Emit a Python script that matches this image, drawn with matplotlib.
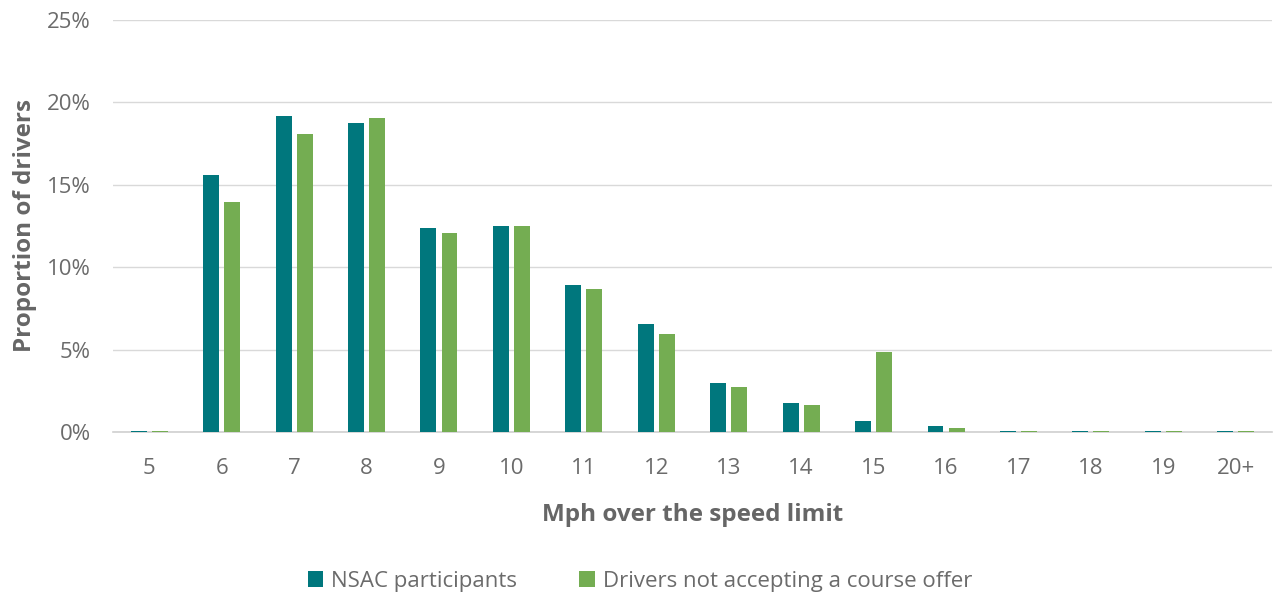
import matplotlib
matplotlib.use("Agg")
import matplotlib.pyplot as plt
import numpy as np
from matplotlib.ticker import PercentFormatter, MultipleLocator

categories = ["5", "6", "7", "8", "9", "10", "11", "12", "13", "14", "15", "16", "17", "18", "19", "20+"]
nsac = [0.05, 15.6, 19.15, 18.75, 12.4, 12.5, 8.95, 6.55, 2.95, 1.77, 0.67, 0.38, 0.05, 0.05, 0.05, 0.05]
not_accepting = [0.05, 13.95, 18.1, 19.05, 12.05, 12.5, 8.7, 5.95, 2.73, 1.63, 4.88, 0.27, 0.05, 0.05, 0.05, 0.05]

teal = "#00777D"
green = "#74AD52"
text_c = "#6b6b6b"
label_c = "#666666"

plt.rcParams['font.family'] = ['Open Sans', 'DejaVu Sans']

fig = plt.figure(figsize=(12.74, 5.96), dpi=100)
ax = fig.add_axes([113/1274, 1-432/596, (1272-113)/1274, (432-20)/596])

x = np.arange(len(categories))
w = 0.22
off = 0.145
ax.bar(x - off, nsac, width=w, color=teal, label="NSAC participants", zorder=3)
ax.bar(x + off, not_accepting, width=w, color=green, label="Drivers not accepting a course offer", zorder=3)

ax.set_xlim(-0.5, len(categories) - 0.5)
ax.set_ylim(0, 25)
ax.yaxis.set_major_locator(MultipleLocator(5))
ax.yaxis.set_major_formatter(PercentFormatter(decimals=0))
ax.grid(axis='y', color="#D9D9D9", linewidth=1, zorder=0)
ax.set_axisbelow(True)
for s in ["top", "right", "left"]:
    ax.spines[s].set_visible(False)
ax.spines["bottom"].set_color("#D0D0D0")
ax.spines["bottom"].set_linewidth(1.2)

ax.set_xticks(x)
ax.set_xticklabels(categories)
ax.tick_params(axis='x', length=0, pad=19, labelsize=16, labelcolor=text_c)
ax.tick_params(axis='y', length=0, pad=16, labelsize=16, labelcolor=text_c)

ax.set_xlabel("Mph over the speed limit", fontsize=17.5, fontweight='bold', color=label_c, labelpad=17)
ax.set_ylabel("Proportion of drivers", fontsize=17.5, fontweight='bold', color=label_c)
ax.yaxis.set_label_coords(-0.066, 0.5)

fig.legend(loc='center', bbox_to_anchor=(640/1274, 1-581/596), ncol=2, frameon=False,
           fontsize=16, labelcolor=text_c, handlelength=0.7, handleheight=0.7,
           handletextpad=0.35, columnspacing=2.8)

fig.savefig("out.png", dpi=100)
